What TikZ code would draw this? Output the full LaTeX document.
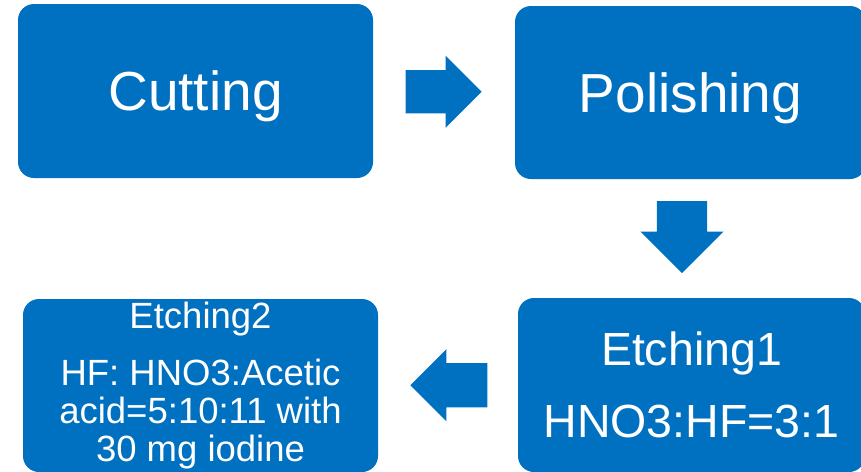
\documentclass[tikz,border=0pt]{standalone}
\usepackage{fontspec}
\setmainfont{Liberation Sans}
\usetikzlibrary{calc,shapes.arrows}
\definecolor{stepblue}{RGB}{0,112,192}
\tikzset{
	stepbox/.style={fill=stepblue, text=white, rounded corners=16pt, align=center, inner sep=0pt},
	flowarrow/.style={single arrow, fill=stepblue, draw=none, inner xsep=0pt, single arrow tip angle=90, anchor=tip}
}

\begin{document}
\begin{tikzpicture}[x=1pt, y=-1pt]
		%%%%% START %%%%%
		
		\useasboundingbox (0, 0) rectangle (861, 471);
		\clip (0, 0) rectangle (861, 471);
		
		\node[stepbox, minimum width=355pt, minimum height=174pt, text depth=0pt, font=\fontsize{55}{60}\selectfont] (cut) at (195.5, 91) {Cutting};
		\node[stepbox, minimum width=351pt, minimum height=173pt, text depth=0pt, font=\fontsize{55}{60}\selectfont] (pol) at (690.5, 92.5) {Polishing};
		
		\node[stepbox, minimum width=347pt, minimum height=174pt, font=\fontsize{46.5}{72}\selectfont] (etch1) at (691.5, 385) {Etching1\\HNO3:HF=3:1};
		\node[stepbox, minimum width=355pt, minimum height=173pt, font=\fontsize{36.5}{38}\selectfont] (etch2) at (200.5, 385.5)
			{Etching2\\[19pt]HF: HNO3:Acetic\\acid=5:10:11 with\\30 mg iodine};
		
		\node[flowarrow, inner ysep=21.5pt, single arrow head extend=14.5pt, minimum height=76pt] (a1) at ($(cut.east)!0.5!(pol.west)+(38, 0)$) {};
		\node[flowarrow, inner ysep=25pt, single arrow head extend=16.5pt, minimum height=72pt, rotate=-90] (a2) at ($(pol.south)!0.5!(etch1.north)+(-9, 35)$) {};
		\node[flowarrow, inner ysep=22pt, single arrow head extend=14pt, minimum height=77pt, rotate=180] (a3) at ($(etch1.west)!0.5!(etch2.east)+(-38, 0)$) {};
		
		%%%%% END %%%%%
	\end{tikzpicture}
\end{document}
